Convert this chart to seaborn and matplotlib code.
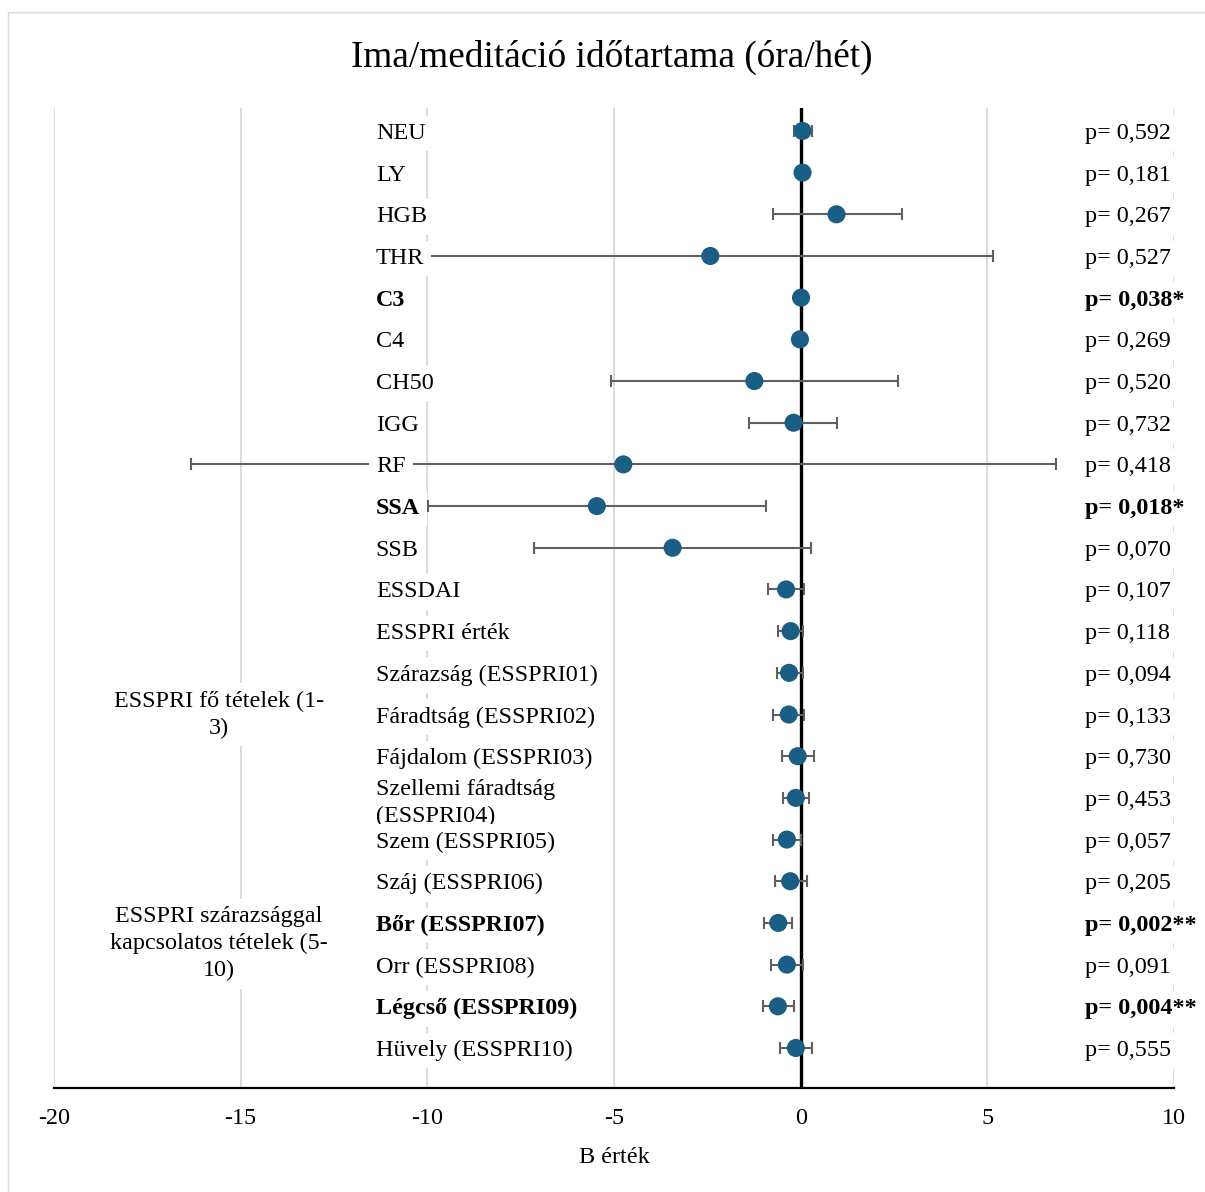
import matplotlib
matplotlib.use("Agg")
import matplotlib.pyplot as plt
import seaborn as sns
import pandas as pd
from matplotlib.patches import Rectangle

# ---------------- data ----------------
labels = ["NEU", "LY", "HGB", "THR", "C3", "C4", "CH50", "IGG", "RF", "SSA", "SSB",
          "ESSDAI", "ESSPRI érték", "Szárazság (ESSPRI01)", "Fáradtság (ESSPRI02)",
          "Fájdalom (ESSPRI03)", "Szellemi fáradtság\n(ESSPRI04)", "Szem (ESSPRI05)",
          "Száj (ESSPRI06)", "Bőr (ESSPRI07)", "Orr (ESSPRI08)", "Légcső (ESSPRI09)",
          "Hüvely (ESSPRI10)"]
b_values = [0.05, 0.05, 0.96, -2.42, 0.01, -0.02, -1.24, -0.19, -4.75, -5.46, -3.43,
            -0.39, -0.27, -0.31, -0.32, -0.08, -0.13, -0.37, -0.28, -0.60, -0.37, -0.61, -0.13]
ci_low = [-0.18, 0.03, -0.75, -10.2, -0.01, -0.04, -5.08, -1.38, -16.33, -9.98, -7.13,
          -0.87, -0.62, -0.64, -0.73, -0.51, -0.48, -0.75, -0.70, -0.97, -0.80, -1.02, -0.55]
ci_high = [0.31, 0.07, 2.72, 5.15, 0.03, 0.00, 2.61, 0.98, 6.84, -0.94, 0.28,
           0.09, 0.07, 0.05, 0.10, 0.36, 0.22, 0.01, 0.16, -0.23, 0.07, -0.18, 0.31]
p_labels = ["p= 0,592", "p= 0,181", "p= 0,267", "p= 0,527", "p= 0,038*", "p= 0,269",
            "p= 0,520", "p= 0,732", "p= 0,418", "p= 0,018*", "p= 0,070", "p= 0,107",
            "p= 0,118", "p= 0,094", "p= 0,133", "p= 0,730", "p= 0,453", "p= 0,057",
            "p= 0,205", "p= 0,002**", "p= 0,091", "p= 0,004**", "p= 0,555"]
bold_rows = [False, False, False, False, True, False, False, False, False, True, False,
             False, False, False, False, False, False, False, False, True, False, True, False]
group_labels = ["ESSPRI fő tételek (1-\n3)", "ESSPRI szárazsággal\nkapcsolatos tételek (5-\n10)"]
group_rows = [14, 19.5]
x_ticks = [-20, -15, -10, -5, 0, 5, 10]
title = "Ima/meditáció időtartama (óra/hét)"
x_label = "B érték"

# ---------------- style ----------------
sns.set_theme(style="white")
plt.rcParams["font.family"] = ["Liberation Serif", "DejaVu Serif"]

W, H = 1205, 1192
fig = plt.figure(figsize=(W / 100, H / 100), dpi=100)
fig.patches.append(Rectangle((8 / W, -0.01), 1.2, 1 - 12 / H + 0.01, transform=fig.transFigure,
                             fill=False, edgecolor="#d9d9d9", linewidth=1.0))
ax = fig.add_axes([54 / W, 104 / H, 1120 / W, 980 / H])

df = pd.DataFrame({"label": labels, "b": b_values, "lo": ci_low, "hi": ci_high,
                   "row": list(range(len(labels)))})

ax.errorbar(df["b"], df["row"], xerr=[df["b"] - df["lo"], df["hi"] - df["b"]], fmt="none",
            ecolor="#606060", elinewidth=1.5, capsize=4.5, capthick=1.5, zorder=3)
sns.scatterplot(data=df, x="b", y="row", color="#1a5e85", s=170, edgecolor="none",
                zorder=5, ax=ax, legend=False)

ax.axvline(0, color="black", lw=2.4, zorder=2)

lab_x = -11.38
p_x = 7.62
fs = 17.4
box = dict(boxstyle="square,pad=0.3", facecolor="white", edgecolor="none")
for r, (lab, p, bd) in enumerate(zip(labels, p_labels, bold_rows)):
    w = "bold" if bd else "normal"
    ax.text(lab_x, r, lab, ha="left", va="center_baseline", fontsize=fs, fontweight=w,
            color="black", linespacing=1.33, zorder=4, bbox=box)
    ax.text(p_x, r, p, ha="left", va="center_baseline", fontsize=fs, fontweight=w,
            color="black", zorder=4, bbox=box)

for g, gr in zip(group_labels, group_rows):
    ax.text(-15.58, gr, g, ha="center", va="center", fontsize=fs, color="black",
            linespacing=1.36, multialignment="center", zorder=4, bbox=box)

ax.set_xlim(-20, 10)
ax.set_ylim(22.96, -0.55)
ax.set_xticks(x_ticks)
ax.set_xticklabels([str(t) for t in x_ticks])
ax.set_yticks([])
ax.grid(axis="x", color="#d9d9d9", lw=1.3)
ax.grid(axis="y", visible=False)
ax.set_axisbelow(True)
for s in ["top", "left", "right"]:
    ax.spines[s].set_visible(False)
ax.spines["bottom"].set_color("black")
ax.spines["bottom"].set_linewidth(1.6)
ax.tick_params(axis="x", length=0, pad=14.5, labelsize=fs, colors="black")
ax.set_xlabel(x_label, fontsize=fs, color="black", labelpad=13)
ax.set_ylabel("")

fig.text(611.5 / W, 1 - 57 / H, title, ha="center", va="center", fontsize=26.8, color="black")

fig.savefig("out.png", dpi=100)
